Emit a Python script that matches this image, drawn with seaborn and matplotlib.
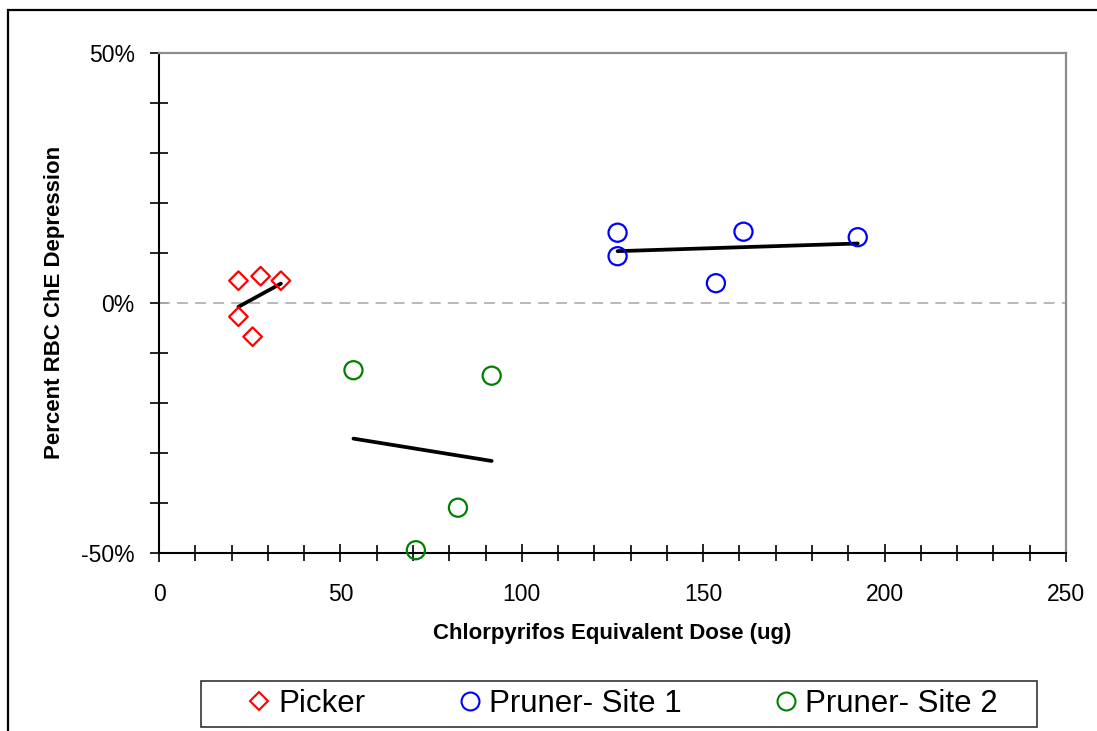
import numpy as np
import pandas as pd
import matplotlib
matplotlib.use("Agg")
import matplotlib.pyplot as plt
from matplotlib.lines import Line2D
from matplotlib.patches import Rectangle
from matplotlib.ticker import MultipleLocator, FuncFormatter
import seaborn as sns

# ---- data ----
picker_dose = [21.9, 28.0, 33.6, 21.9, 25.8]
picker_depr = [4.4, 5.3, 4.4, -2.8, -6.8]

site1_dose = [126.4, 126.4, 161.1, 153.5, 192.6]
site1_depr = [14.0, 9.3, 14.2, 3.9, 13.1]

site2_dose = [53.6, 70.8, 82.4, 91.7]
site2_depr = [-13.5, -49.5, -41.0, -14.6]

series_names = ["Picker", "Pruner- Site 1", "Pruner- Site 2"]
series_colors = ["#FF0000", "#0000FF", "#008000"]
series_markers = ["D", "o", "o"]

x_label = "Chlorpyrifos Equivalent Dose (ug)"
y_label = "Percent RBC ChE Depression"

# ---- style ----
sns.set_style("white")
plt.rcParams["font.family"] = ["Liberation Sans", "DejaVu Sans"]
plt.rcParams["axes.unicode_minus"] = False
plt.rcParams["text.color"] = "black"
plt.rcParams["axes.labelcolor"] = "black"
plt.rcParams["xtick.color"] = "black"
plt.rcParams["ytick.color"] = "black"

W, H = 1097, 731
fig = plt.figure(figsize=(W / 100, H / 100), dpi=100)
ax_l, ax_r, ax_t, ax_b = 159, 1066, 52.7, 552.7
ax = fig.add_axes([ax_l / W, 1 - ax_b / H, (ax_r - ax_l) / W, (ax_b - ax_t) / H])

datasets = [
    (picker_dose, picker_depr),
    (site1_dose, site1_depr),
    (site2_dose, site2_depr),
]
sizes = [90, 170, 170]

# zero reference line
ax.axhline(0, color="#b3b3b3", lw=1.3, ls=(0, (6, 4)), zorder=1)

for (xd, yd), name, col, mk, sz in zip(datasets, series_names, series_colors,
                                       series_markers, sizes):
    df = pd.DataFrame({"dose": xd, "depr": yd})
    sns.regplot(data=df, x="dose", y="depr", ax=ax, scatter=False, ci=None,
                truncate=True, color="black", line_kws={"lw": 2.7, "zorder": 3})
    sns.scatterplot(data=df, x="dose", y="depr", ax=ax, marker=mk, s=sz,
                    facecolor="none", edgecolor=col, linewidth=1.6,
                    clip_on=False, zorder=4, legend=False)

ax.set_xlim(0, 250)
ax.set_ylim(-50, 50)

ax.xaxis.set_major_locator(MultipleLocator(50))
ax.xaxis.set_minor_locator(MultipleLocator(10))
ax.yaxis.set_major_locator(MultipleLocator(50))
ax.yaxis.set_minor_locator(MultipleLocator(10))
ax.yaxis.set_major_formatter(FuncFormatter(lambda v, p: f"{v:.0f}%"))

ax.tick_params(axis="both", which="both", direction="inout", color="black",
               width=1.2, bottom=True, left=True, top=False, right=False)
ax.tick_params(axis="x", which="major", length=13, labelsize=16.5, pad=15,
               labelcolor="black")
ax.tick_params(axis="x", which="minor", length=11)
ax.tick_params(axis="y", which="both", length=13)
ax.tick_params(axis="y", which="major", labelsize=16.5, pad=11,
               labelcolor="black")

for side in ["left", "bottom"]:
    ax.spines[side].set_color("black")
    ax.spines[side].set_linewidth(1.5)
for side in ["top", "right"]:
    ax.spines[side].set_color("#8c8c8c")
    ax.spines[side].set_linewidth(1.6)

ax.set_xlabel(x_label, fontsize=16, fontweight="bold", color="black")
ax.set_ylabel(y_label, fontsize=16, fontweight="bold", color="black")
ax.xaxis.set_label_coords(0.5, -(623 - ax_b) / (ax_b - ax_t))
ax.yaxis.set_label_coords((65 - ax_l) / (ax_r - ax_l), 0.5)

# legend
handles = [Line2D([], [], marker=m, ls="none", mfc="none", mec=c, mew=1.5,
                  ms=(9.2 if m == "D" else 12.9))
           for m, c in zip(series_markers, series_colors)]
leg_x0, leg_x1, leg_yc = 249, 998, 704
leg = fig.legend(handles, series_names, loc="center",
                 bbox_to_anchor=(leg_x0 / W, 1 - (leg_yc + 10) / H,
                                 (leg_x1 - leg_x0) / W, 20 / H),
                 mode="expand", ncol=3, frameon=False, fontsize=22.5,
                 handlelength=0.65, handletextpad=0.3, borderpad=0,
                 borderaxespad=0, labelcolor="black")
fig.add_artist(Rectangle((201 / W, 1 - 727 / H), (1037 - 201) / W, 46 / H,
                         transform=fig.transFigure, fill=False,
                         edgecolor="#333333", lw=1.2))

# outer chart border (left and top visible)
fig.add_artist(Rectangle((8 / W, -0.2), 1.5, 0.2 + (1 - 10 / H),
                         transform=fig.transFigure, fill=False,
                         edgecolor="black", lw=1.6))

fig.savefig("out.png", dpi=100)
